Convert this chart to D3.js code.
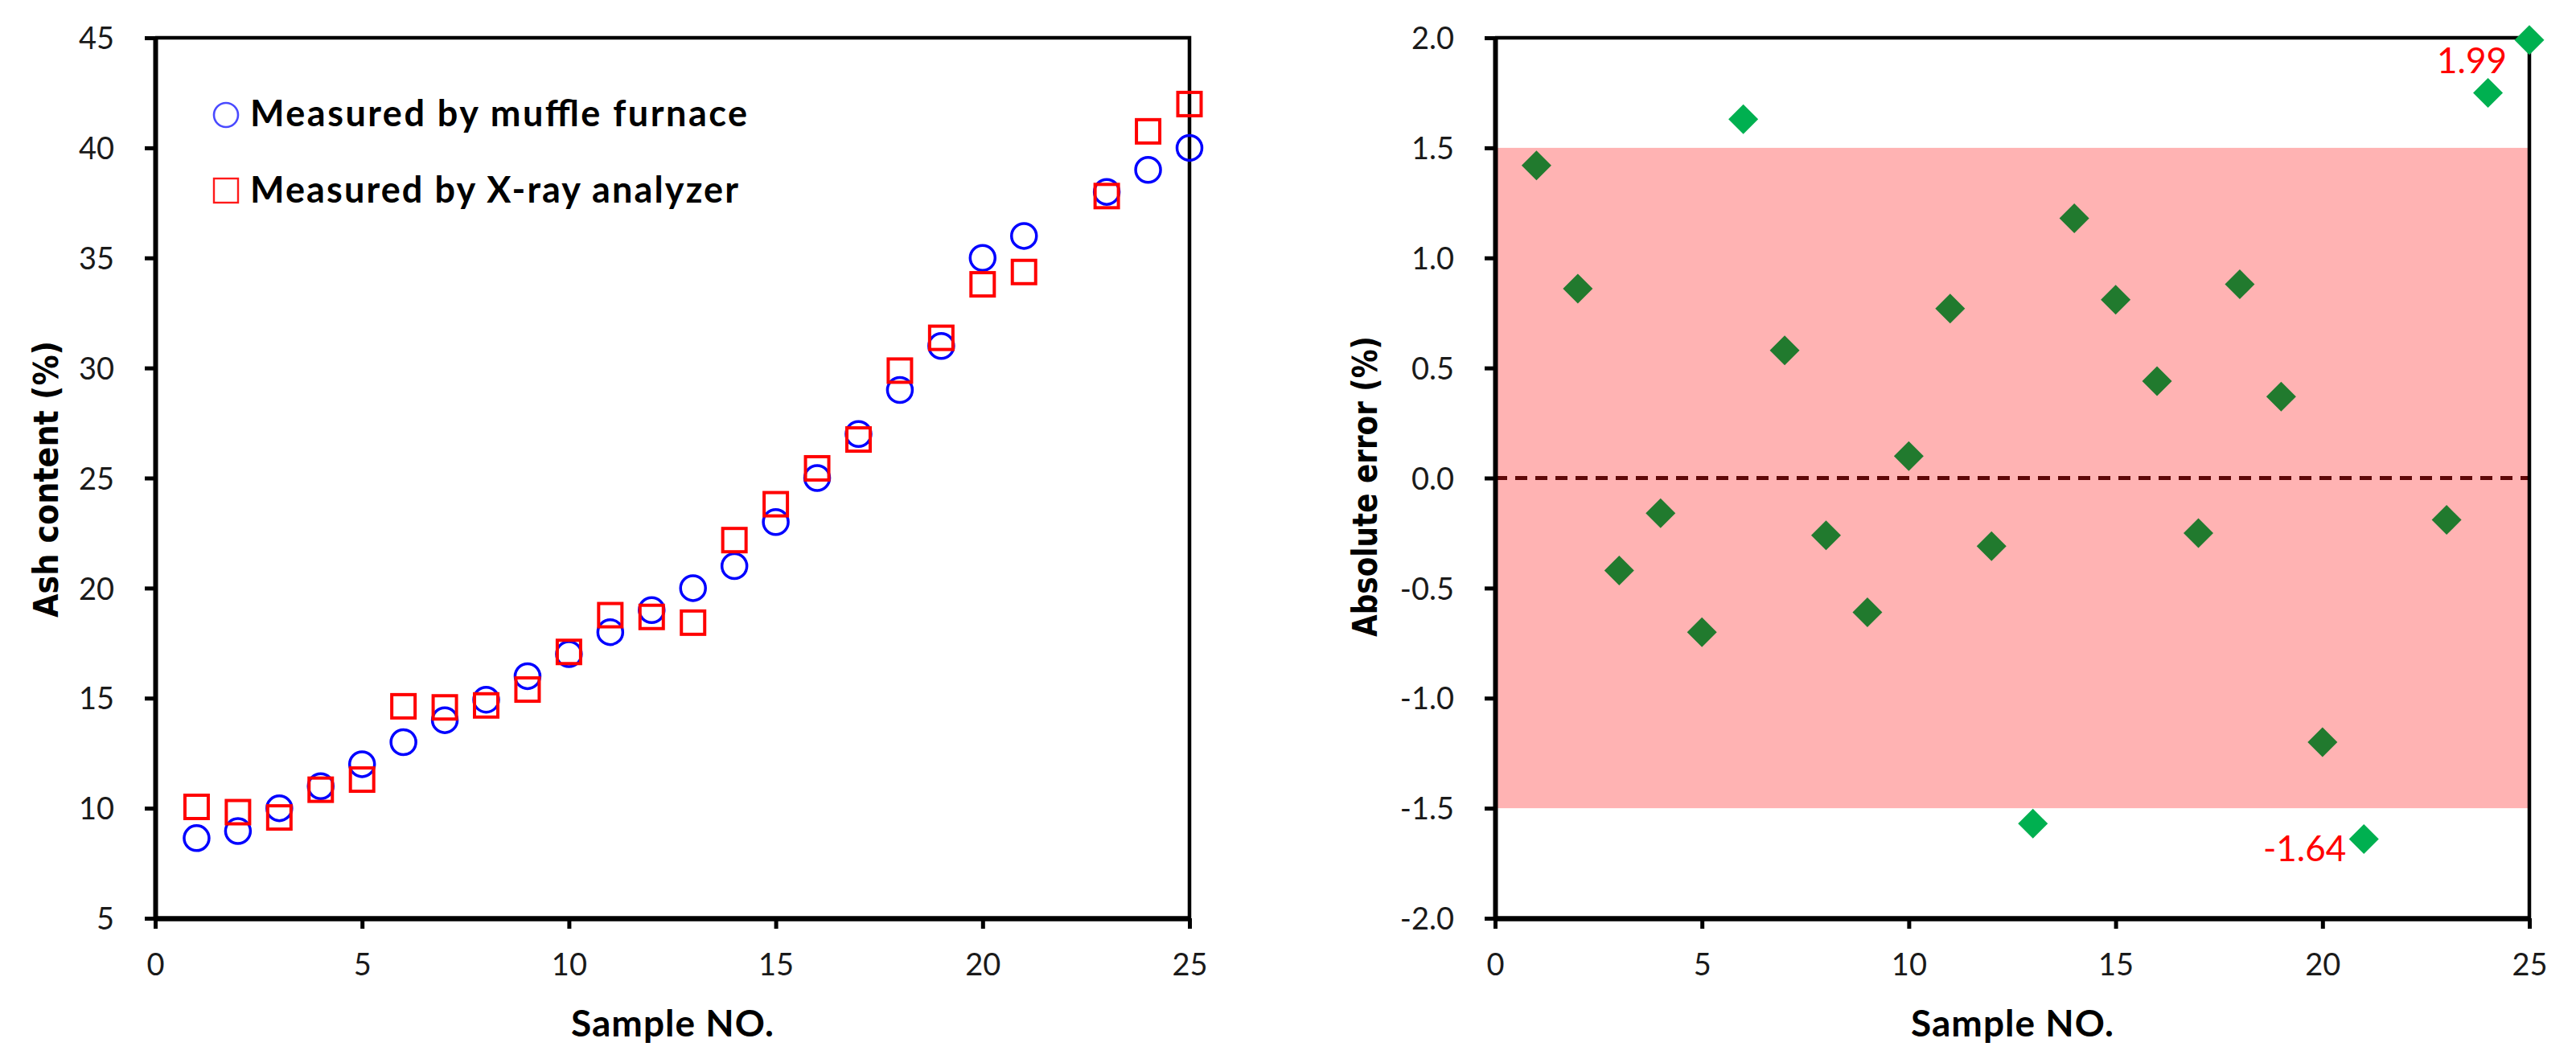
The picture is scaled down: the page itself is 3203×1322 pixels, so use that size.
<!DOCTYPE html>
<html>
<head>
<meta charset="utf-8">
<script src="https://cdn.jsdelivr.net/npm/d3@7"></script>
<style>
  html, body { margin: 0; padding: 0; background: #fff; }
  svg { display: block; }
</style>
</head>
<body>
<svg id="chart" width="3203" height="1322"></svg>
<script>
// sample numbers (no. 22 is not in the figure)
const samples = [1, 2, 3, 4, 5, 6, 7, 8, 9, 10, 11, 12, 13, 14, 15, 16, 17, 18, 19, 20, 21, 23, 24, 25];
// ash content (%) measured by muffle furnace
const muffleAsh = [8.64, 8.96, 10.0, 11.0, 12.0, 13.0, 14.0, 14.93, 16.0, 17.0, 18.0, 19.0,
  20.0, 21.0, 23.0, 25.0, 27.0, 29.0, 31.0, 35.0, 36.0, 38.0, 39.0, 40.0];
// ash content (%) measured by X-ray analyzer
const xrayAsh = [10.06, 9.82, 9.58, 10.84, 11.30, 14.63, 14.58, 14.67, 15.39, 17.10, 18.77, 18.69,
  18.43, 22.18, 23.81, 25.44, 26.75, 29.88, 31.37, 33.80, 34.36, 37.81, 40.75, 41.99];
// absolute error (%)
const absError = [1.42, 0.86, -0.42, -0.16, -0.70, 1.63, 0.58, -0.26, -0.61, 0.10, 0.77, -0.31,
  -1.57, 1.18, 0.81, 0.44, -0.25, 0.88, 0.37, -1.20, -1.64, -0.19, 1.75, 1.99];

const sampleTicks = [0, 5, 10, 15, 20, 25];
const ashTicks = [5, 10, 15, 20, 25, 30, 35, 40, 45];
const errorTicks = [-2.0, -1.5, -1.0, -0.5, 0.0, 0.5, 1.0, 1.5, 2.0];
const errorBand = [-1.5, 1.5];
const labelledSamples = [25, 21];
const legendNames = ["Measured by muffle furnace", "Measured by X-ray analyzer"];

const W = 3203, H = 1322;
const plotTop = 47, plotBottom = 1142;
const tickFont = "Lato, 'Open Sans', sans-serif";

const svg = d3.select("#chart");
svg.append("rect").attr("width", W).attr("height", H).attr("fill", "#fff");

// frame (top + right) and the two axes of one panel
function drawAxes(g, x, y, yTicks, yFormat) {
  let [x0, x1] = x.range();
  g.append("path")
    .attr("d", `M${x0},${plotTop}H${x1}V${plotBottom}`)
    .attr("fill", "none")
    .attr("stroke", "#000")
    .attr("stroke-width", 4.5);

  let yAxis = d3.axisLeft(y).tickValues(yTicks).tickSize(13).tickSizeOuter(0)
    .tickPadding(38).tickFormat(yFormat);
  g.append("g")
    .attr("transform", `translate(${x0},0)`)
    .call(yAxis)
    .attr("font-family", tickFont)
    .attr("font-size", 38)
    .call(a => a.select(".domain").attr("stroke-width", 6))
    .call(a => a.selectAll(".tick line").attr("stroke-width", 5))
    .call(a => a.selectAll(".tick text").attr("fill", "#1a1a1a").attr("dy", "0.36em"));

  let xAxis = d3.axisBottom(x).tickValues(sampleTicks).tickSize(13).tickSizeOuter(0)
    .tickFormat(d3.format("d"));
  g.append("g")
    .attr("transform", `translate(0,${plotBottom})`)
    .call(xAxis)
    .attr("font-family", tickFont)
    .attr("font-size", 38)
    .call(a => a.select(".domain").attr("stroke-width", 6.5))
    .call(a => a.selectAll(".tick line").attr("stroke-width", 5))
    .call(a => a.selectAll(".tick text").attr("fill", "#1a1a1a").attr("y", 71).attr("dy", 0));

  g.append("text")
    .attr("x", (x0 + x1) / 2)
    .attr("y", 1289)
    .attr("text-anchor", "middle")
    .attr("font-family", tickFont)
    .attr("font-weight", 700)
    .attr("font-size", 46)
    .attr("textLength", 252)
    .attr("lengthAdjust", "spacing")
    .text("Sample NO.");
}

function yTitle(g, text, bx, cy, len) {
  g.append("text")
    .attr("transform", `translate(${bx},${cy}) rotate(-90)`)
    .attr("text-anchor", "middle")
    .attr("font-family", "'DejaVu Sans', Verdana, sans-serif")
    .attr("font-weight", 700)
    .attr("font-size", 43)
    .attr("textLength", len)
    .attr("lengthAdjust", "spacingAndGlyphs")
    .text(text);
}

/* ---------- left panel: ash content ---------- */
{
  let g = svg.append("g");
  let x = d3.scaleLinear().domain([0, 25]).range([193, 1479]);
  let y = d3.scaleLinear().domain([5, 45]).range([plotBottom, plotTop]);

  drawAxes(g, x, y, ashTicks, d3.format("d"));
  yTitle(g, "Ash content (%)", 72, 596, 344);

  g.append("g").selectAll("circle")
    .data(samples)
    .join("circle")
    .attr("cx", d => x(d))
    .attr("cy", (d, i) => y(muffleAsh[i]))
    .attr("r", 15.5)
    .attr("fill", "none")
    .attr("stroke", "#0000ff")
    .attr("stroke-width", 3.5);

  g.append("g").selectAll("rect")
    .data(samples)
    .join("rect")
    .attr("x", d => x(d) - 14.5)
    .attr("y", (d, i) => y(xrayAsh[i]) - 14.5)
    .attr("width", 29)
    .attr("height", 29)
    .attr("fill", "none")
    .attr("stroke", "#ff0000")
    .attr("stroke-width", 4);

  // legend, no box
  let legendWidths = [618, 607];
  let lg = g.append("g").attr("transform", "translate(281,143)");
  lg.append("circle").attr("r", 15).attr("fill", "none")
    .attr("stroke", "#4a4aff").attr("stroke-width", 2.6);
  lg.append("rect").attr("x", -15).attr("y", 94 - 15).attr("width", 30).attr("height", 30)
    .attr("fill", "none").attr("stroke", "#ff1a1a").attr("stroke-width", 2.4);
  lg.selectAll("text")
    .data(legendNames)
    .join("text")
    .attr("x", 30)
    .attr("y", (d, i) => 14 + i * 95)
    .attr("font-family", tickFont)
    .attr("font-weight", 700)
    .attr("font-size", 45)
    .attr("textLength", (d, i) => legendWidths[i])
    .attr("lengthAdjust", "spacing")
    .text(d => d);
}

/* ---------- right panel: absolute error ---------- */
{
  let g = svg.append("g");
  let x = d3.scaleLinear().domain([0, 25]).range([1859, 3145]);
  let y = d3.scaleLinear().domain([-2, 2]).range([plotBottom, plotTop]);

  // +-1.5 % tolerance band
  g.append("rect")
    .attr("x", x(0))
    .attr("y", y(errorBand[1]))
    .attr("width", x(25) - x(0))
    .attr("height", y(errorBand[0]) - y(errorBand[1]))
    .attr("fill", "#ffb3b3");

  g.append("line")
    .attr("x1", x(0)).attr("x2", x(25))
    .attr("y1", y(0)).attr("y2", y(0))
    .attr("stroke", "#5e0808")
    .attr("stroke-width", 5)
    .attr("stroke-dasharray", "15 10");

  drawAxes(g, x, y, errorTicks, d => d.toFixed(1));
  yTitle(g, "Absolute error (%)", 1712, 605, 374);

  let outside = e => e > errorBand[1] || e < errorBand[0];
  g.append("g").selectAll("path")
    .data(samples)
    .join("path")
    .attr("transform", (d, i) => `translate(${x(d)},${y(absError[i])})`)
    .attr("d", "M0,-18.5L18.5,0L0,18.5L-18.5,0Z")
    .attr("fill", (d, i) => outside(absError[i]) ? "#00b050" : "#217a2e");

  // red value labels of the two extremes
  let labelOffset = { 25: [-28, 41], 21: [-22, 28] };
  g.append("g").selectAll("text")
    .data(labelledSamples)
    .join("text")
    .attr("x", d => x(d) + labelOffset[d][0])
    .attr("y", d => y(absError[samples.indexOf(d)]) + labelOffset[d][1])
    .attr("text-anchor", "end")
    .attr("font-family", tickFont)
    .attr("font-size", 44)
    .attr("fill", "#ff0000")
    .text(d => absError[samples.indexOf(d)].toFixed(2));
}
</script>
</body>
</html>
